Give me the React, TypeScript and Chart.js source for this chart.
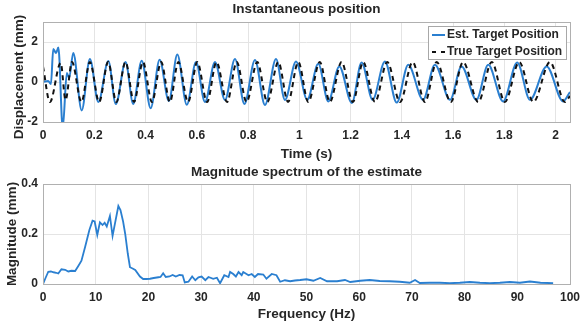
import React, { useEffect, useRef } from 'react';
import { Chart, registerables } from 'chart.js';

Chart.register(...registerables);

const FONT = '"Liberation Sans", Arial, Helvetica, sans-serif';
const TEXT = '#262626';
const BLUE = '#2a7fd0';
const BLACK = '#111111';
const GRID = '#e4e4e4';
const FRAME = '#b0b0b0';

// ---- Top panel: instantaneous position (s, mm) ----
const estTime = [
  0.0, 0.02, 0.031, 0.04, 0.051, 0.06, 0.077, 0.093, 0.102, 0.118, 0.151, 0.183, 0.216, 0.255,
  0.284, 0.322, 0.352, 0.385, 0.42, 0.455, 0.491, 0.524, 0.561, 0.597, 0.632, 0.671, 0.71, 0.749,
  0.786, 0.827, 0.866, 0.909, 0.944, 0.987, 1.031, 1.074, 1.113, 1.156, 1.205, 1.243, 1.286, 1.334,
  1.38, 1.425, 1.483, 1.529, 1.588, 1.633, 1.691, 1.737, 1.795, 1.85, 1.9, 1.965, 2.029, 2.056,
];
const estPos = [
  0.0, 0.05, -0.1, 1.65, 1.45, 1.72, -2.3, 0.45, 0.2, 1.45, -1.42, 1.15, -1.0, 1.05,
  -1.1, 1.0, -1.1, 1.06, -1.31, 1.11, -0.95, 1.37, -1.14, 1.0, -1.0, 1.0, -0.9, 1.15,
  -1.1, 1.1, -1.15, 1.15, -0.9, 1.03, -0.89, 0.91, -0.97, 0.78, -1.05, 0.98, -0.89, 1.03,
  -1.03, 0.86, -0.89, 0.86, -0.89, 0.78, -0.89, 0.86, -0.97, 0.98, -0.89, 0.78, -0.97, -0.5,
];
const trueTime = [
  0.0, 0.027, 0.069, 0.088, 0.113, 0.15, 0.183, 0.219, 0.254, 0.286, 0.322, 0.355, 0.39, 0.425,
  0.461, 0.495, 0.528, 0.566, 0.602, 0.64, 0.677, 0.718, 0.756, 0.794, 0.836, 0.875, 0.918, 0.956,
  0.996, 1.035, 1.08, 1.119, 1.165, 1.209, 1.249, 1.295, 1.343, 1.393, 1.442, 1.49, 1.536, 1.591,
  1.639, 1.698, 1.751, 1.802, 1.858, 1.913, 1.978, 2.036, 2.056,
];
const truePos = [
  0.78, -1.0, 0.95, -0.9, 1.0, -1.0, 1.0, -1.0, 1.0, -1.0, 1.0, -1.0, 1.0, -1.0,
  1.0, -1.0, 1.0, -1.0, 1.0, -1.0, 1.0, -1.0, 1.0, -1.0, 1.0, -1.0, 1.0, -1.0,
  1.0, -1.0, 1.0, -1.0, 1.0, -1.0, 1.0, -1.0, 1.0, -1.0, 1.0, -1.0, 1.0, -1.0,
  1.0, -1.0, 1.0, -1.0, 1.0, -1.0, 1.0, -1.0, -0.7,
];

// ---- Bottom panel: magnitude spectrum (Hz, mm) ----
const specFreq = [
  0, 0.5, 1, 1.5, 2, 2.5, 2.9, 3.5, 4.2, 4.8, 5.4, 6.1, 6.7, 7.3, 8.0, 8.8, 9.4, 9.8, 10.3, 10.8,
  11.3, 11.7, 12.1, 12.7, 13.2, 14.3, 14.7, 15.2, 15.6, 16.1, 16.5, 17.0, 17.5, 18.4, 19.0, 19.6,
  20.3, 21.0, 21.9, 22.3, 22.8, 23.3, 24.0, 24.6, 25.2, 25.9, 26.5, 26.9, 27.6, 28.3, 28.9, 29.5,
  30.1, 30.8, 31.4, 32.3, 33.0, 33.6, 34.4, 35.2, 35.5, 36.1, 36.6, 37.1, 37.7, 38.0, 39.0, 39.6,
  40.2, 40.8, 41.8, 42.4, 43.4, 44.3, 45.0, 45.9, 46.9, 47.8, 48.8, 50.0, 51.3, 52.6, 53.9, 55.8,
  57.3, 58.3, 60.2, 62.0, 63.9, 65.8, 67.7, 69.6, 70.6, 71.5, 73.4, 75.3, 77.2, 79.1, 81.0, 82.9,
  84.8, 86.7, 88.6, 90.5, 92.4, 94.4, 96.8,
];
const specMag = [
  0.0, 0.025, 0.049, 0.05, 0.047, 0.045, 0.042, 0.059, 0.057, 0.05, 0.053, 0.052, 0.072, 0.093,
  0.149, 0.216, 0.253, 0.25, 0.196, 0.247, 0.236, 0.245, 0.23, 0.272, 0.192, 0.312, 0.296, 0.25,
  0.2, 0.12, 0.067, 0.062, 0.056, 0.03, 0.02, 0.02, 0.021, 0.024, 0.027, 0.028, 0.043, 0.028,
  0.03, 0.036, 0.03, 0.036, 0.035, 0.006, 0.009, 0.03, 0.015, 0.027, 0.03, 0.015, 0.028, 0.021,
  0.025, 0.003, 0.035, 0.028, 0.048, 0.04, 0.03, 0.048, 0.035, 0.048, 0.035, 0.04, 0.028, 0.04,
  0.038, 0.021, 0.04, 0.035, 0.009, 0.015, 0.011, 0.014, 0.016, 0.019, 0.013, 0.024, 0.011,
  0.011, 0.016, 0.008, 0.013, 0.016, 0.012, 0.011, 0.009, 0.005, 0.016, 0.004, 0.005, 0.005,
  0.003, 0.005, 0.008, 0.005, 0.003, 0.005, 0.008, 0.005, 0.01, 0.005, 0.003,
];

const fmtTick = (v: any) => String(Number(Number(v).toFixed(3)));

const decor = {
  id: 'decor',
  afterDatasetsDraw(chart: any, _args: any, opts: any) {
    const { ctx, chartArea: a } = chart;
    const L = Math.round(a.left), T = Math.round(a.top), R = Math.round(a.right), B = Math.round(a.bottom);
    ctx.save();
    ctx.strokeStyle = FRAME;
    ctx.lineWidth = 1;
    ctx.setLineDash([]);
    ctx.strokeRect(L + 0.5, T + 0.5, R - L, B - T);
    if (opts.legend) {
      const ds = chart.data.datasets;
      const bw = 138, bh = 33;
      const bx = R - 4 - bw, by = T + 4;
      ctx.fillStyle = '#ffffff';
      ctx.fillRect(bx + 0.5, by + 0.5, bw, bh);
      ctx.strokeStyle = '#a8a8a8';
      ctx.strokeRect(bx + 0.5, by + 0.5, bw, bh);
      ctx.font = 'bold 12px ' + FONT;
      ctx.textAlign = 'left';
      ctx.textBaseline = 'middle';
      ds.forEach((d: any, i: number) => {
        const yy = by + 9 + i * 17;
        ctx.save();
        ctx.strokeStyle = d.borderColor;
        ctx.lineWidth = 2;
        ctx.setLineDash(d.borderDash ? [4, 5] : []);
        ctx.beginPath();
        ctx.moveTo(bx + 4, yy);
        ctx.lineTo(bx + 17, yy);
        ctx.stroke();
        ctx.restore();
        ctx.fillStyle = TEXT;
        ctx.fillText(d.label, bx + 19, yy);
      });
    }
    ctx.restore();
  },
  afterDraw(chart: any, _args: any, opts: any) {
    const { ctx } = chart;
    ctx.save();
    ctx.translate(opts.yTitleX, opts.yTitleY);
    ctx.rotate(-Math.PI / 2);
    ctx.font = 'bold 13.5px ' + FONT;
    ctx.fillStyle = TEXT;
    ctx.textAlign = 'center';
    ctx.textBaseline = 'middle';
    ctx.fillText(opts.yTitle, 0, 0);
    ctx.restore();
  },
};

function xScale(min: number, max: number, step: number, title: string, height: number, tickPad: number, titlePad: number) {
  return {
    type: 'linear',
    min,
    max,
    grid: { color: GRID, drawTicks: false, lineWidth: 1 },
    border: { display: false },
    ticks: {
      stepSize: step,
      includeBounds: false,
      padding: tickPad,
      color: TEXT,
      font: { size: 12, weight: 'bold' },
      maxRotation: 0,
      autoSkip: false,
      callback: fmtTick,
    },
    title: {
      display: true,
      text: title,
      color: TEXT,
      font: { size: 13.5, weight: 'bold' },
      padding: { top: 0, bottom: titlePad },
    },
    afterFit: (s: any) => {
      s.height = height;
      s.paddingLeft = 0;
      s.paddingRight = 0;
    },
  };
}

function yScale(min: number, max: number, step: number) {
  return {
    type: 'linear',
    min,
    max,
    grid: { color: GRID, drawTicks: false, lineWidth: 1 },
    border: { display: false },
    ticks: {
      stepSize: step,
      includeBounds: false,
      padding: 5,
      color: TEXT,
      font: { size: 12, weight: 'bold' },
      callback: fmtTick,
    },
    afterFit: (s: any) => {
      s.width = 43;
      s.paddingTop = 0;
      s.paddingBottom = 0;
    },
  };
}

export default function App() {
  const topRef = useRef<HTMLCanvasElement>(null);
  const botRef = useRef<HTMLCanvasElement>(null);

  useEffect(() => {
    Chart.defaults.font.family = FONT;
    const c1 = new Chart(topRef.current as HTMLCanvasElement, {
      type: 'line',
      data: {
        datasets: [
          {
            label: 'Est. Target Position',
            data: estTime.map((x, i) => ({ x, y: estPos[i] })),
            borderColor: BLUE,
            borderWidth: 2,
            pointRadius: 0,
            cubicInterpolationMode: 'monotone',
            fill: false,
            order: 1,
          },
          {
            label: 'True Target Position',
            data: trueTime.map((x, i) => ({ x, y: truePos[i] })),
            borderColor: BLACK,
            borderWidth: 2,
            borderDash: [5, 4],
            pointRadius: 0,
            cubicInterpolationMode: 'monotone',
            fill: false,
            order: 0,
          },
        ],
      },
      options: {
        responsive: false,
        animation: false,
        events: [],
        layout: { padding: { left: 0, right: 10, top: 0, bottom: 0 } },
        scales: {
          x: xScale(0, 2.056, 0.2, 'Time (s)', 43, 6.5, 2.9) as any,
          y: yScale(-2, 3, 2) as any,
        },
        plugins: {
          legend: { display: false },
          tooltip: { enabled: false },
          title: {
            display: true,
            text: 'Instantaneous position',
            color: TEXT,
            fullSize: false,
            font: { size: 13.5, weight: 'bold', lineHeight: 1 },
            padding: { top: 2.9, bottom: 5.6 },
          },
          decor: { legend: true, yTitle: 'Displacement (mm)', yTitleX: 19, yTitleY: 77 },
        } as any,
      },
      plugins: [decor],
    } as any);

    const c2 = new Chart(botRef.current as HTMLCanvasElement, {
      type: 'line',
      data: {
        datasets: [
          {
            label: 'Magnitude',
            data: specFreq.map((x, i) => ({ x, y: specMag[i] })),
            borderColor: BLUE,
            borderWidth: 1.8,
            pointRadius: 0,
            tension: 0,
            fill: false,
          },
        ],
      },
      options: {
        responsive: false,
        animation: false,
        events: [],
        layout: { padding: { left: 0, right: 10, top: 0, bottom: 0 } },
        scales: {
          x: xScale(0, 100, 10, 'Frequency (Hz)', 42, 6, 3.9) as any,
          y: yScale(0, 0.4, 0.2) as any,
        },
        plugins: {
          legend: { display: false },
          tooltip: { enabled: false },
          title: {
            display: true,
            text: 'Magnitude spectrum of the estimate',
            color: TEXT,
            fullSize: false,
            font: { size: 13.5, weight: 'bold', lineHeight: 1 },
            padding: { top: 0.6, bottom: 4.9 },
          },
          decor: { legend: false, yTitle: 'Magnitude (mm)', yTitleX: 12.5, yTitleY: 69 },
        } as any,
      },
      plugins: [decor],
    } as any);

    return () => {
      c1.destroy();
      c2.destroy();
    };
  }, []);

  return (
    <div style={{ position: 'absolute', left: 0, top: 0, width: 580, height: 326, background: '#ffffff' }}>
      <canvas ref={topRef} width={580} height={165} style={{ display: 'block', width: 580, height: 165 }} />
      <canvas ref={botRef} width={580} height={161} style={{ display: 'block', width: 580, height: 161 }} />
    </div>
  );
}
